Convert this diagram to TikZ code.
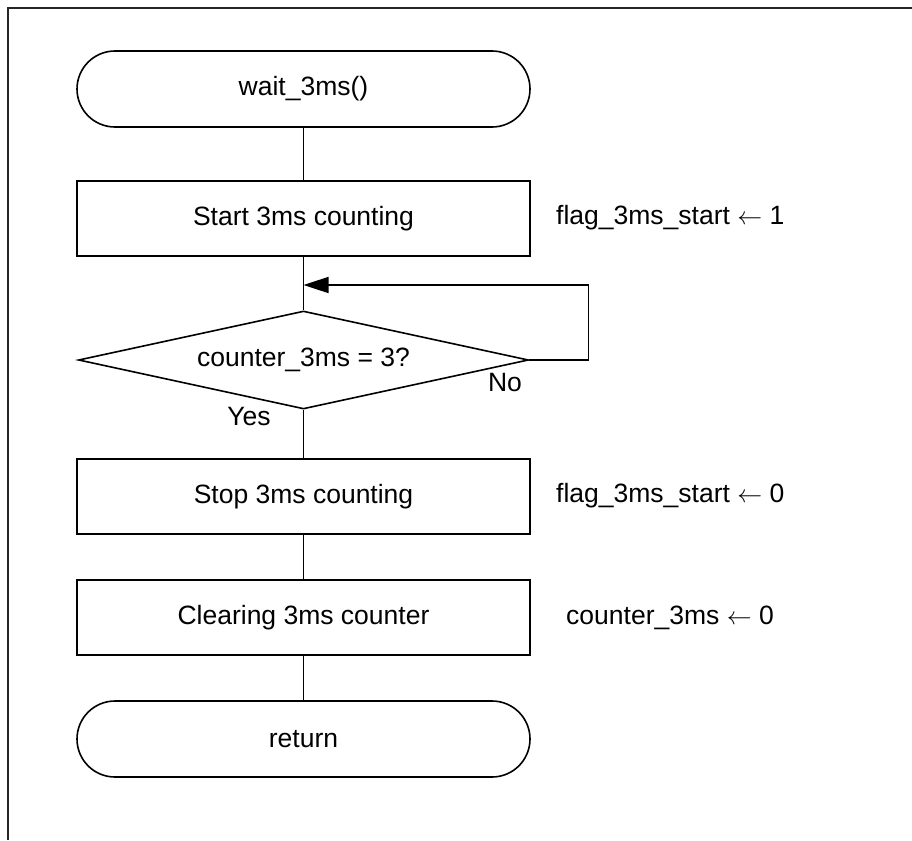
\documentclass[tikz,border=0pt]{standalone}
\usepackage{fontspec}
\setmainfont{Liberation Sans}
\usetikzlibrary{shapes.geometric,arrows.meta}
\begin{document}
\begin{tikzpicture}[x=1pt,y=-1pt,
  font=\fontsize{26.5pt}{31pt}\selectfont,
  shapeline/.style={line width=1.6pt},
  termbox/.style={shapeline,draw,rectangle,rounded corners=38pt,minimum width=453pt,minimum height=76pt,inner sep=0pt},
  procbox/.style={shapeline,draw,rectangle,minimum width=453pt,minimum height=75pt,inner sep=0pt},
  decbox/.style={shapeline,draw,diamond,aspect=4.6,minimum width=450pt,minimum height=98pt,inner sep=0pt},
  note/.style={anchor=west,inner sep=0pt},
  lbl/.style={inner sep=0pt},
  conn/.style={line width=1.6pt},
  loopconn/.style={line width=1.6pt,-{Triangle[length=25pt,width=16pt]}}
]
\useasboundingbox (0,0) rectangle (912,840);
\draw[line width=1.8pt,black!85] (8,840) -- (8,8) -- (912,8);

\node[termbox] (start) at (303.5,89) {wait\_3ms()};
\node[procbox] (b1) at (303.5,218.5) {Start 3ms counting};
\node[decbox] (dec) at (303.5,360) {counter\_3ms = 3?};
\node[procbox] (b2) at (303.5,496.5) {Stop 3ms counting};
\node[procbox] (b3) at (303.5,617.5) {Clearing 3ms counter};
\node[termbox] (ret) at (303.5,739) {return};

\node[note] (n1) at (556,218) {flag\_3ms\_start \(\leftarrow\) 1};
\node[note] (n2) at (556,496) {flag\_3ms\_start \(\leftarrow\) 0};
\node[note] (n3) at (566,618) {counter\_3ms \(\leftarrow\) 0};

\node[lbl] (no) at (505,383) {No};
\node[lbl] (yes) at (249,417) {Yes};

\coordinate (join) at (303.5,285);

\draw[conn] (start.south) -- (b1.north);
\draw[conn] (b1.south) -- (dec.north);
\draw[conn] (dec.south) -- (b2.north);
\draw[conn] (b2.south) -- (b3.north);
\draw[conn] (b3.south) -- (ret.north);
\draw[loopconn] (dec.east) -- ++(59,0) |- (join);
\end{tikzpicture}
\end{document}
